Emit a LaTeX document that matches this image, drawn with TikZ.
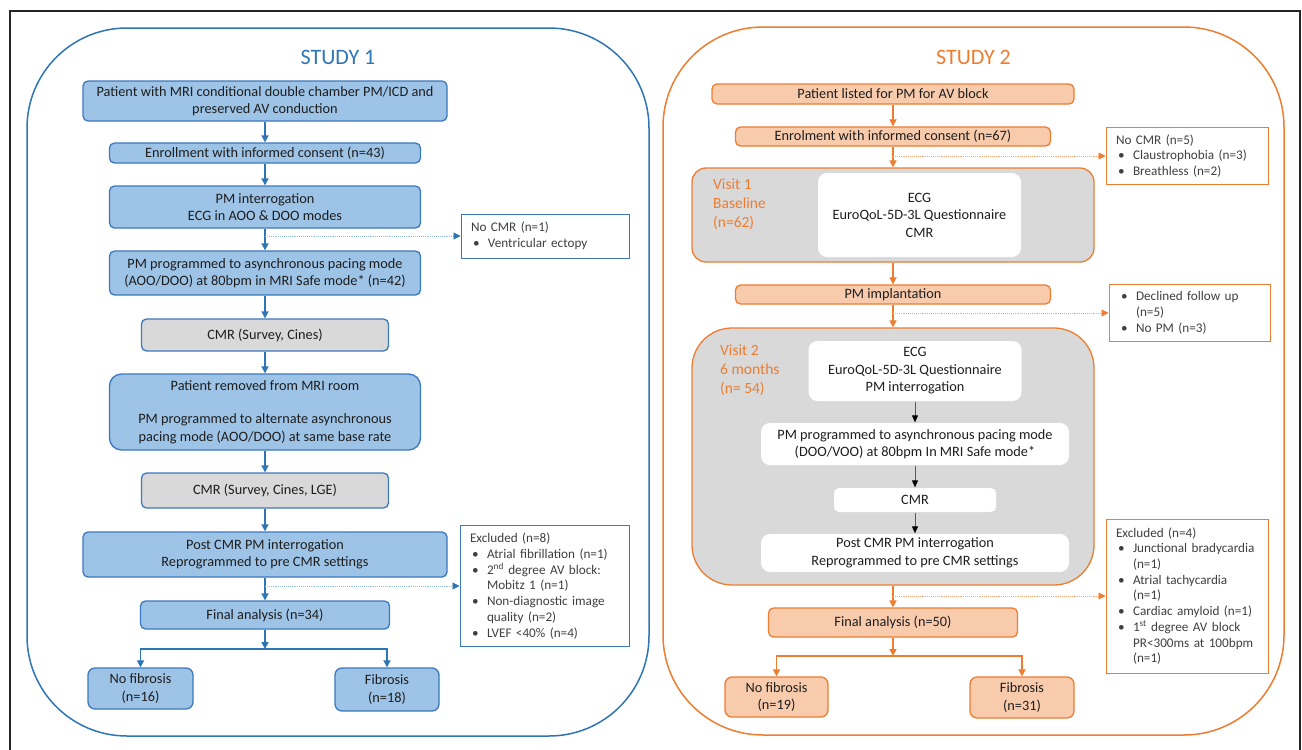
\documentclass[tikz,border=0pt]{standalone}
\usepackage{fontspec}
\setmainfont{Carlito}
\usetikzlibrary{arrows.meta}
\definecolor{bl}{RGB}{46,117,182}
\definecolor{blb}{RGB}{60,120,190}
\definecolor{blf}{RGB}{157,195,230}
\definecolor{bll}{RGB}{150,190,228}
\definecolor{or}{RGB}{237,125,49}
\definecolor{orl}{RGB}{244,170,120}
\definecolor{orf}{RGB}{248,203,173}
\definecolor{gr}{RGB}{217,217,217}
\definecolor{tx}{RGB}{30,30,30}
\definecolor{stx}{RGB}{64,64,64}
\newcommand\sbul[1]{\hspace*{2pt}\makebox[15pt][l]{•}#1}
\newcommand\scont[1]{\hspace*{17pt}#1}
\tikzset{
 base/.style={align=center, inner sep=0pt, text=tx, font=\fontsize{14.3pt}{17.5pt}\selectfont, line width=1.3pt},
 bbox/.style={base, draw=blb, fill=blf, rounded corners=5pt},
 bgbox/.style={base, draw=blb, fill=gr, rounded corners=5pt},
 obox/.style={base, draw=or, fill=orf, rounded corners=5pt},
 ogbox/.style={base, draw=or, fill=gr},
 wbox/.style={base, fill=white, rounded corners=9pt},
 sbox/.style={align=left, inner xsep=10pt, inner ysep=0pt, text=stx, font=\fontsize{13.2pt}{15.7pt}\selectfont, fill=white, line width=1pt},
 sbbox/.style={sbox, draw=blb},
 sobox/.style={sbox, draw=or},
 title/.style={inner sep=0pt, font=\fontsize{22pt}{26pt}\selectfont},
 vlab/.style={anchor=west, align=left, inner sep=0pt, text=or, font=\fontsize{15.5pt}{19pt}\selectfont},
 barr/.style={draw=bl, line width=1.6pt, -{Triangle[length=7pt,width=7pt]}},
 oarr/.style={draw=or, line width=1.6pt, -{Triangle[length=7pt,width=7pt]}},
 karr/.style={draw=black!65, line width=0.9pt, -{Triangle[length=7pt,width=6pt,color=black]}},
 bsarr/.style={draw=bll, line width=0.9pt, densely dotted, -{Triangle[length=7pt,width=7pt,color=bl]}},
 osarr/.style={draw=orl, line width=0.9pt, densely dotted, -{Triangle[length=7pt,width=7pt,color=or]}},
}
\begin{document}
\begin{tikzpicture}[x=1pt,y=-1pt]
\useasboundingbox (0,0) rectangle (1302,750);
\fill[white] (0,0) rectangle (1302,750);
\draw[line width=2pt, black!85] (10,750) -- (10,11) -- (1300,11) -- (1300,750);

% ---------- STUDY 1 ----------
\node[draw=bl, line width=1.5pt, rounded corners=100pt, minimum width=622pt, minimum height=708pt, inner sep=0pt] (S1) at (338,382) {};
\node[title, text=bl] (t1) at (338,57) {STUDY 1};

\node[bbox, minimum width=364pt, minimum height=40pt] (s1a) at (265,101) {Patient with MRI conditional double chamber PM/ICD and\\preserved AV conduction};
\node[bbox, minimum width=311pt, minimum height=20pt] (s1b) at (265,153) {Enrollment with informed consent (n=43)};
\node[bbox, minimum width=311pt, minimum height=42pt] (s1c) at (265,207) {PM interrogation\\ECG in AOO \& DOO modes};
\node[bbox, minimum width=311pt, minimum height=44pt] (s1d) at (265,273) {PM programmed to asynchronous pacing mode\\(AOO/DOO) at 80bpm in MRI Safe mode* (n=42)};
\node[bgbox, minimum width=247pt, minimum height=32pt] (s1e) at (265,335) {CMR (Survey, Cines)};
\node[bbox, rounded corners=12pt, minimum width=311pt, minimum height=76pt] (s1f) at (265,412) {Patient removed from MRI room\\[16pt]PM programmed to alternate asynchronous\\pacing mode (AOO/DOO) at same base rate};
\node[bgbox, minimum width=247pt, minimum height=35pt] (s1g) at (265,490.5) {CMR (Survey, Cines, LGE)};
\node[bbox, minimum width=364pt, minimum height=45pt] (s1h) at (265,554.5) {Post CMR PM interrogation\\Reprogrammed to pre CMR settings};
\node[bbox, minimum width=249pt, minimum height=28pt] (s1i) at (265,615) {Final analysis (n=34)};
\node[bbox, rounded corners=7pt, minimum width=105pt, minimum height=41pt] (s1j) at (140.5,688.5) {No fibrosis\\(n=16)};
\node[bbox, rounded corners=7pt, minimum width=104pt, minimum height=43pt] (s1k) at (387,689.5) {Fibrosis\\(n=18)};

\node[sbbox, minimum width=168pt, minimum height=44pt, text width=148pt] (s1x) at (545,236) {No CMR (n=1)\\\sbul{Ventricular ectopy}};
\node[sbbox, minimum width=169pt, minimum height=121pt, text width=149pt] (s1y) at (544.5,586) {Excluded (n=8)\\\sbul{Atrial fibrillation (n=1)}\\\sbul{2\textsuperscript{nd} degree AV block:}\\\scont{Mobitz 1 (n=1)}\\\sbul{Non-diagnostic image}\\\scont{quality (n=2)}\\\sbul{LVEF <40\% (n=4)}};

\coordinate (s1t1) at (265,236);
\coordinate (s1t2) at (265,586);
\coordinate (s1sp) at (265,649);

\draw[barr] (s1a) -- (s1b);
\draw[barr] (s1b) -- (s1c);
\draw[barr] (s1c) -- (s1d);
\draw[barr] (s1d) -- (s1e);
\draw[barr] (s1e) -- (s1f);
\draw[barr] (s1f) -- (s1g);
\draw[barr] (s1g) -- (s1h);
\draw[barr] (s1h) -- (s1i);
\draw[barr] (s1i) -- (s1sp);
\draw[barr] (s1sp) -| (s1j);
\draw[barr] (s1sp) -| (s1k);
\draw[bsarr] (s1t1) -- (s1x);
\draw[bsarr] (s1t2) -- (s1y);

% ---------- STUDY 2 ----------
\node[draw=or, line width=1.5pt, rounded corners=100pt, minimum width=621pt, minimum height=708pt, inner sep=0pt] (S2) at (973.5,381) {};
\node[title, text=or] (t2) at (973.5,57) {STUDY 2};

\node[obox, minimum width=362pt, minimum height=20pt] (s2a) at (893,94) {Patient listed for PM for AV block};
\node[obox, minimum width=315pt, minimum height=19pt] (s2b) at (893,136.5) {Enrolment with informed consent (n=67)};

\node[ogbox, rounded corners=14pt, minimum width=402pt, minimum height=94pt] (s2v1) at (893,215) {};
\node[wbox, minimum width=203pt, minimum height=84pt] (s2v1w) at (919.5,215) {ECG\\EuroQoL-5D-3L Questionnaire\\CMR};
\node[vlab] (s2v1l) at (713,204) {Visit 1\\Baseline\\(n=62)};

\node[obox, minimum width=315pt, minimum height=19pt] (s2c) at (893,294.5) {PM implantation};

\node[ogbox, rounded corners=40pt, minimum width=402pt, minimum height=257pt] (s2v2) at (893,456.5) {};
\node[vlab] (s2v2l) at (720,370) {Visit 2\\6 months\\(n= 54)};
\node[wbox, minimum width=213pt, minimum height=60pt] (s2w1) at (915,371) {ECG\\EuroQoL-5D-3L Questionnaire\\PM interrogation};
\node[wbox, minimum width=308pt, minimum height=42pt] (s2w2) at (915,444) {PM programmed to asynchronous pacing mode\\(DOO/VOO) at 80bpm In MRI Safe mode*};
\node[wbox, rounded corners=5pt, minimum width=162pt, minimum height=24pt] (s2w3) at (915,500) {CMR};
\node[wbox, minimum width=308pt, minimum height=38pt] (s2w4) at (915,553) {Post CMR PM interrogation\\Reprogrammed to pre CMR settings};

\node[obox, minimum width=249pt, minimum height=29pt] (s2d) at (893,622.5) {Final analysis (n=50)};
\node[obox, rounded corners=7pt, minimum width=103pt, minimum height=40pt] (s2e) at (776.5,697) {No fibrosis\\(n=19)};
\node[obox, rounded corners=7pt, minimum width=104pt, minimum height=41pt] (s2f) at (1022,697.5) {Fibrosis\\(n=31)};

\node[sobox, minimum width=162pt, minimum height=57pt, text width=142pt] (s2x) at (1187,156) {No CMR (n=5)\\\sbul{Claustrophobia (n=3)}\\\sbul{Breathless (n=2)}};
\node[sobox, minimum width=161pt, minimum height=57pt, text width=141pt] (s2y) at (1189.5,313) {\sbul{Declined follow up}\\\scont{(n=5)}\\\sbul{No PM (n=3)}};
\node[sobox, minimum width=162pt, minimum height=154pt, text width=142pt] (s2z) at (1187,596) {Excluded (n=4)\\\sbul{Junctional bradycardia}\\\scont{(n=1)}\\\sbul{Atrial tachycardia}\\\scont{(n=1)}\\\sbul{Cardiac amyloid (n=1)}\\\sbul{1\textsuperscript{st} degree AV block}\\\scont{PR<300ms at 100bpm}\\\scont{(n=1)}};

\coordinate (s2t1) at (893,156);
\coordinate (s2t2) at (893,313);
\coordinate (s2t3) at (893,596);
\coordinate (s2sp) at (893,656);

\draw[oarr] (s2a) -- (s2b);
\draw[oarr] (s2b) -- (s2v1);
\draw[oarr] (s2v1) -- (s2c);
\draw[oarr] (s2c) -- (s2v2);
\draw[oarr] (s2v2) -- (s2d);
\draw[oarr] (s2d) -- (s2sp);
\draw[oarr] (s2sp) -| (s2e);
\draw[oarr] (s2sp) -| (s2f);
\draw[karr] (s2w1) -- (s2w2);
\draw[karr] (s2w2) -- (s2w3);
\draw[karr] (s2w3) -- (s2w4);
\draw[osarr] (s2t1) -- (s2x);
\draw[osarr] (s2t2) -- (s2y);
\draw[osarr] (s2t3) -- (s2z);
\end{tikzpicture}
\end{document}
